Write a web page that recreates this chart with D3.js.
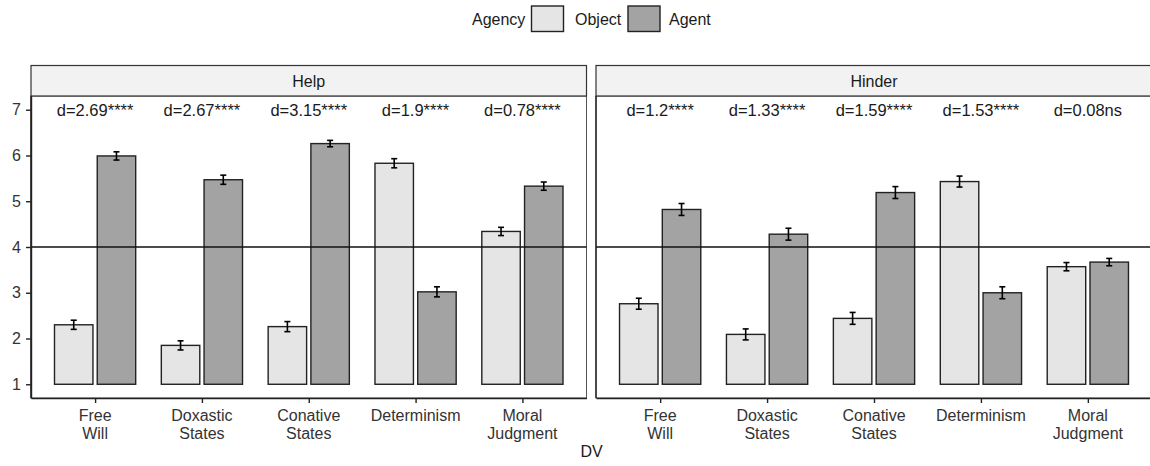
<!DOCTYPE html>
<html><head><meta charset="utf-8">
<script src="https://cdn.jsdelivr.net/npm/d3@7"></script>
<style>body{margin:0;background:#fff}svg{display:block;font-family:"Liberation Sans",Arial,sans-serif}</style>
</head><body><svg id="c" width="1150" height="466"></svg>
<script>
const categories = ["Free\nWill","Doxastic\nStates","Conative\nStates","Determinism","Moral\nJudgment"];
const facets = ["Help","Hinder"];
const groups = ["Object","Agent"];
const helpObject = [2.30,1.85,2.26,5.83,4.34];
const helpObjectSE = [0.10,0.10,0.11,0.10,0.09];
const helpAgent = [5.99,5.47,6.26,3.02,5.33];
const helpAgentSE = [0.09,0.10,0.07,0.11,0.09];
const hinderObject = [2.76,2.09,2.44,5.43,3.57];
const hinderObjectSE = [0.12,0.12,0.13,0.12,0.09];
const hinderAgent = [4.82,4.28,5.19,3.00,3.67];
const hinderAgentSE = [0.13,0.13,0.13,0.13,0.08];
const helpLabels = ["d=2.69****","d=2.67****","d=3.15****","d=1.9****","d=0.78****"];
const hinderLabels = ["d=1.2****","d=1.33****","d=1.59****","d=1.53****","d=0.08ns"];
const yTicks = [1,2,3,4,5,6,7];

(function(){
const colors = {Object:"#e5e5e5", Agent:"#a3a3a3"};
const svg = d3.select("#c");
const plotTop = 96, plotBottom = 398;
const y = d3.scaleLinear().domain([0.7,7.3]).range([plotBottom, plotTop]);
const panels = [
  {name:facets[0], x0:31, x1:586.5, obj:helpObject, objSE:helpObjectSE, ag:helpAgent, agSE:helpAgentSE, lab:helpLabels},
  {name:facets[1], x0:596, x1:1152, obj:hinderObject, objSE:hinderObjectSE, ag:hinderAgent, agSE:hinderAgentSE, lab:hinderLabels}
];
const font = 16;

panels.forEach((p,pi)=>{
  const g = svg.append("g");
  const xp = d3.scalePoint().domain(categories).range([p.x0,p.x1]).padding(0.6);
  const unit = xp.step();
  const bw = unit*0.36, off = unit*0.2;
  g.append("rect").attr("x",p.x0).attr("y",plotTop).attr("width",p.x1-p.x0).attr("height",plotBottom-plotTop)
    .attr("fill","#fff").attr("stroke","#555").attr("stroke-width",1);
  g.append("rect").attr("x",p.x0).attr("y",65.5).attr("width",p.x1-p.x0).attr("height",30.5)
    .attr("fill","#f2f2f2").attr("stroke","#333").attr("stroke-width",1.2);
  g.append("text").attr("x",(p.x0+p.x1)/2).attr("y",81).attr("text-anchor","middle")
    .attr("dominant-baseline","central").attr("font-size",font).attr("fill","#1a1a1a").text(p.name);
  const data = [];
  categories.forEach((c,i)=>{
    data.push({c, grp:groups[0], v:p.obj[i], se:p.objSE[i], cx:xp(c)-off});
    data.push({c, grp:groups[1], v:p.ag[i], se:p.agSE[i], cx:xp(c)+off});
  });
  g.selectAll("rect.bar").data(data).enter().append("rect").attr("class","bar")
    .attr("x",d=>d.cx-bw/2).attr("width",bw)
    .attr("y",d=>y(d.v)).attr("height",d=>y(1)-y(d.v))
    .attr("fill",d=>colors[d.grp]).attr("stroke","#222").attr("stroke-width",1.4);
  const eb = g.selectAll("g.eb").data(data).enter().append("g").attr("stroke","#000").attr("stroke-width",1.6);
  eb.append("line").attr("x1",d=>d.cx).attr("x2",d=>d.cx).attr("y1",d=>y(d.v-d.se)).attr("y2",d=>y(d.v+d.se));
  eb.append("line").attr("x1",d=>d.cx-3).attr("x2",d=>d.cx+3).attr("y1",d=>y(d.v-d.se)).attr("y2",d=>y(d.v-d.se));
  eb.append("line").attr("x1",d=>d.cx-3).attr("x2",d=>d.cx+3).attr("y1",d=>y(d.v+d.se)).attr("y2",d=>y(d.v+d.se));
  g.append("line").attr("x1",p.x0).attr("x2",p.x1).attr("y1",y(4)).attr("y2",y(4)).attr("stroke","#111").attr("stroke-width",1.4);
  g.selectAll("text.ann").data(categories).enter().append("text")
    .attr("x",c=>xp(c)).attr("y",y(7)).attr("text-anchor","middle").attr("dominant-baseline","central")
    .attr("font-size",16.5).attr("fill","#1a1a1a").text((c,i)=>p.lab[i]);
  const xa = g.append("g").attr("transform",`translate(0,${plotBottom})`)
    .call(d3.axisBottom(xp).tickSize(5).tickSizeOuter(0).tickFormat(""));
  xa.select(".domain").attr("stroke","#222").attr("stroke-width",1.4);
  xa.selectAll(".tick line").attr("stroke","#222").attr("stroke-width",1.4);
  categories.forEach(c=>{
    const lines = c.split("\n");
    const t = g.append("text").attr("x",xp(c)).attr("text-anchor","middle").attr("font-size",font).attr("fill","#333");
    lines.forEach((l,li)=>t.append("tspan").attr("x",xp(c)).attr("y",421+li*18).text(l));
  });
  g.append("line").attr("x1",p.x0).attr("x2",p.x0).attr("y1",plotTop).attr("y2",plotBottom).attr("stroke","#222").attr("stroke-width",1.4);
  if(pi===0){
    const ya = g.append("g").attr("transform",`translate(${p.x0},0)`)
      .call(d3.axisLeft(y).tickValues(yTicks).tickFormat(d3.format("d")).tickSize(5).tickSizeOuter(0).tickPadding(5));
    ya.select(".domain").attr("stroke","#222").attr("stroke-width",1.4);
    ya.selectAll(".tick line").attr("stroke","#222").attr("stroke-width",1.4);
    ya.selectAll(".tick text").attr("font-size",font).attr("fill","#333").attr("font-family","Liberation Sans, Arial, sans-serif");
  }
});
svg.append("text").attr("x",(31+1152)/2).attr("y",457).attr("text-anchor","middle").attr("font-size",font).attr("fill","#1a1a1a").text("DV");
const leg = svg.append("g");
leg.append("text").attr("x",472).attr("y",19).attr("dominant-baseline","central").attr("font-size",font).attr("fill","#1a1a1a").text("Agency");
const legItems = [{g:groups[0], bx:531, tx:575},{g:groups[1], bx:627.5, tx:669}];
legItems.forEach(it=>{
  leg.append("rect").attr("x",it.bx+0.5).attr("y",6).attr("width",32).attr("height",25.5)
    .attr("fill",colors[it.g]).attr("stroke","#222").attr("stroke-width",1.4);
  leg.append("text").attr("x",it.tx).attr("y",19).attr("dominant-baseline","central").attr("font-size",font).attr("fill","#1a1a1a").text(it.g);
});
})();
</script></body></html>
